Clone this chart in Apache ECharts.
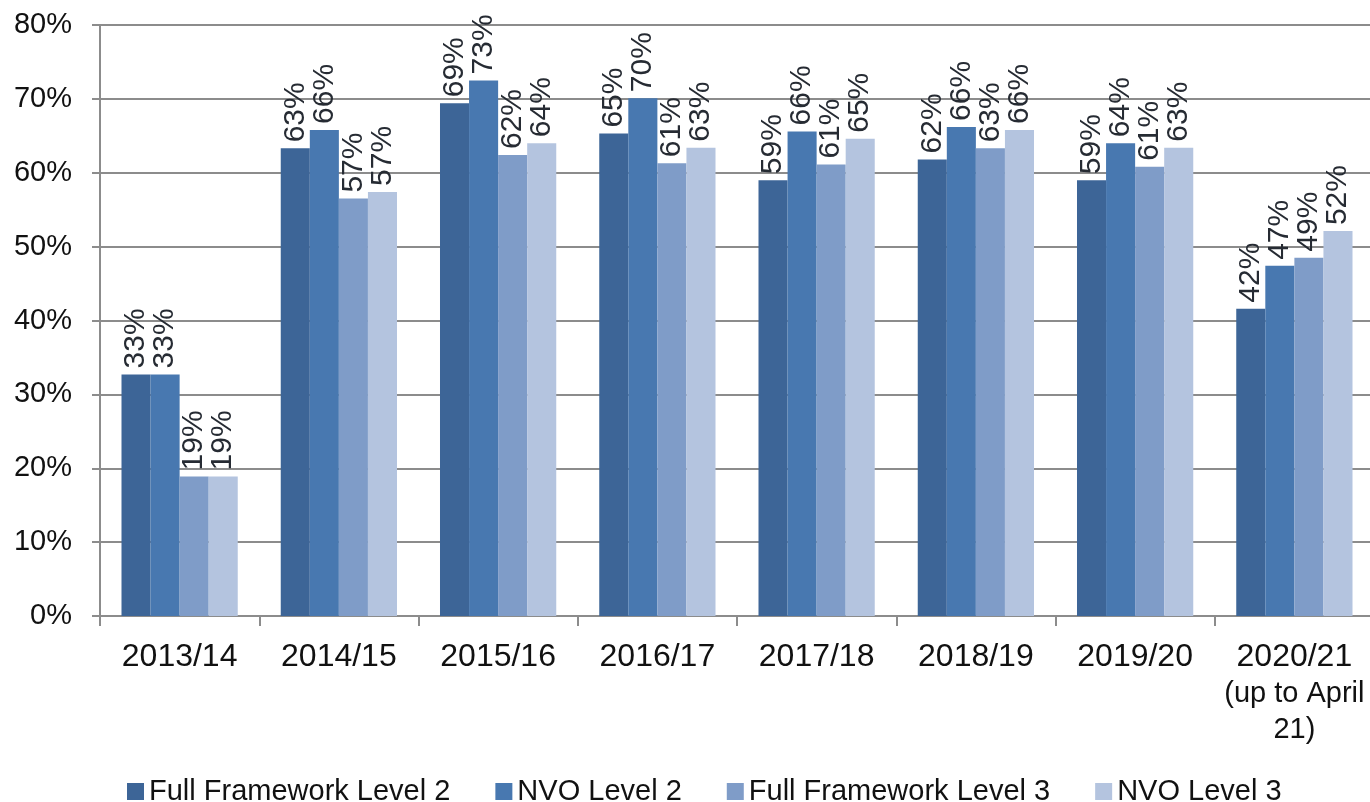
<!DOCTYPE html>
<html>
<head>
<meta charset="utf-8">
<script src="https://cdn.jsdelivr.net/npm/echarts@6/dist/echarts.min.js"></script>
<style>
  html, body { margin: 0; padding: 0; background: #fff; }
  #main { width: 1370px; height: 802px; }
</style>
</head>
<body>
<div id="main"></div>
<script>
// 数据
var years = ['2013/14', '2014/15', '2015/16', '2016/17', '2017/18', '2018/19', '2019/20', '2020/21\n(up to April\n21)'];
var seriesNames = ['Full Framework Level 2', 'NVO Level 2', 'Full Framework Level 3', 'NVO Level 3'];
var fullL2 = [32.7, 63.3, 69.4, 65.3, 59.0, 61.8, 59.0, 41.6];
var nvoL2 = [32.7, 65.8, 72.5, 70.1, 65.6, 66.2, 64.0, 47.4];
var fullL3 = [18.9, 56.5, 62.4, 61.3, 61.1, 63.3, 60.8, 48.5];
var nvoL3 = [18.9, 57.4, 64.0, 63.4, 64.6, 65.8, 63.4, 52.1];
var colors = ['#3d6597', '#4878b0', '#7f9cc8', '#b4c4df'];

var myChart = echarts.init(document.getElementById('main'));
var font = '"Liberation Sans", Arial, sans-serif';

function makeSeries(name, data, color) {
    return {
        name: name,
        type: 'bar',
        data: data,
        barGap: 0,
        barCategoryGap: '27%',
        itemStyle: { color: color },
        label: {
            show: true,
            position: 'top',
            rotate: 90,
            align: 'left',
            verticalAlign: 'middle',
            distance: 6,
            fontFamily: font,
            fontSize: 30,
            color: '#262b33',
            formatter: function (p) {
                return Math.round(p.value) + '%';
            }
        }
    };
}

var option = {
    animation: false,
    color: colors,
    grid: {
        left: 100,
        top: 25,
        width: 1274,
        bottom: 186,
        containLabel: false,
        outerBoundsMode: 'none'
    },
    legend: {
        left: 122,
        top: 772,
        icon: 'rect',
        itemWidth: 17,
        itemHeight: 17,
        itemGap: 45,
        textStyle: { fontFamily: font, fontSize: 29, color: '#111' },
        data: seriesNames
    },
    xAxis: {
        type: 'category',
        data: years,
        axisLine: { lineStyle: { color: '#8c8c8c', width: 2 } },
        axisTick: { show: true, length: 10, lineStyle: { color: '#8c8c8c', width: 2 } },
        axisLabel: {
            margin: 22,
            fontFamily: font,
            fontSize: 32,
            lineHeight: 38,
            color: '#111',
            interval: 0,
            formatter: function (v) {
                // 第二行以后用小一点的字
                var lines = v.split('\n');
                return lines.map(function (l, i) {
                    return i === 0 ? l : '{s|' + l + '}';
                }).join('\n');
            },
            rich: {
                s: { fontFamily: font, fontSize: 29, lineHeight: 36, color: '#111' }
            }
        }
    },
    yAxis: {
        type: 'value',
        min: 0,
        max: 80,
        interval: 10,
        axisLine: { show: true, lineStyle: { color: '#8c8c8c', width: 2 } },
        axisTick: { show: true, length: 8, lineStyle: { color: '#8c8c8c', width: 2 } },
        splitLine: { lineStyle: { color: '#8c8c8c', width: 2 } },
        axisLabel: {
            margin: 28,
            fontFamily: font,
            fontSize: 29,
            color: '#111',
            formatter: '{value}%'
        }
    },
    series: [
        makeSeries(seriesNames[0], fullL2, colors[0]),
        makeSeries(seriesNames[1], nvoL2, colors[1]),
        makeSeries(seriesNames[2], fullL3, colors[2]),
        makeSeries(seriesNames[3], nvoL3, colors[3])
    ]
};

myChart.setOption(option);
</script>
</body>
</html>
